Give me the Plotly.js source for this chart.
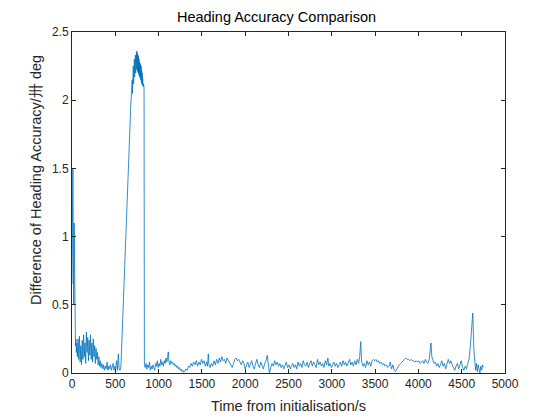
<!DOCTYPE html>
<html>
<head>
<meta charset="utf-8">
<script src="https://cdn.plot.ly/plotly-3.0.1.min.js"></script>
<style>html,body{margin:0;padding:0;background:#fff;}</style>
</head>
<body>
<div id="chart" style="width:556px;height:418px;"></div>
<script>
const timeS = [
0,5,10,15,20,25,30,35,40,45,50,
55,62,70,78,86,94,102,110,118,126,134,142,150,158,166,174,182,190,198,206,214,222,230,238,246,254,262,270,278,286,294,302,310,318,326,
335,345,355,365,375,385,395,405,415,425,435,445,455,465,475,485,495,505,515,525,535,545,555,
565,580,600,620,640,660,680,690,
695,698,702,705,708,711,714,717,720,723,726,729,732,735,738,741,744,747,750,753,756,759,762,765,768,771,774,777,780,783,786,789,792,795,798,801,804,807,810,813,816,820,826,832,
836,
845,855,865,875,885,895,905,915,925,935,945,955,965,975,985,995,1005,1015,1025,1035,1045,1055,1065,1075,1085,1095,1105,1112,1120,1130,1140,1150,1160,1170,1180,1190,1200,1210,1220,1230,1240,1250,1260,1270,1280,1290,1300,
1315,1330,1345,1360,1375,1390,1405,1420,1435,1450,1465,1480,1495,1510,1525,1540,1555,1565,1574,1582,1595,1610,1625,1640,1655,1670,1685,1700,1715,1730,1745,1760,1775,1790,1805,1820,1835,1850,1865,1880,1895,1910,1925,1940,1955,1970,1985,2000,
2015,2030,2045,2060,2075,2090,2105,2120,2135,2150,2165,2180,2195,2210,2225,2240,2255,2265,2280,2295,2310,2325,2340,2355,2370,2385,2400,2415,2430,2445,2460,2475,2490,2505,2520,2535,2550,2565,2580,2595,2610,2625,2640,2655,2670,2685,2700,2715,2730,2745,2760,2775,2790,2805,2820,2835,2850,2865,2880,2895,2910,2925,2940,2955,2965,2980,2995,3010,3025,3040,3055,3070,3085,3100,3115,3130,3145,3160,3175,3190,3205,3220,3235,3250,3265,3280,3295,3310,3322,3334,3345,3360,
3375,3390,3405,3420,3435,3450,3465,3480,3495,3510,3525,3540,3555,3570,3585,3600,3615,3630,3645,3660,3675,3690,3705,3720,3735,3750,3765,3780,3795,
3810,3825,3840,3855,3870,3885,3900,3915,3930,3945,3960,3975,3990,4005,4020,4035,4050,4065,4080,4095,4110,4125,4138,4145,4155,4165,4180,4195,4210,4225,4240,4255,4270,4285,4300,4315,4330,4345,4360,4375,4390,4405,4420,4435,4450,4465,4480,4495,4510,4525,4540,4555,4570,4585,4600,4615,4628,4640,4650,
4660,4670,4680,4690,4700,4710,4720,4730,4740,4750
];
const headingDiff = [
0.65,1.2,1.5,0.9,0.5,1.1,0.6,0.35,0.2,0.25,0.15,
0.22,0.12,0.25,0.1,0.27,0.08,0.2,0.06,0.24,0.1,0.28,0.12,0.22,0.07,0.3,0.15,0.26,0.09,0.24,0.13,0.28,0.1,0.22,0.08,0.25,0.12,0.2,0.07,0.18,0.1,0.15,0.06,0.12,0.05,0.09,
0.04,0.07,0.03,0.06,0.02,0.05,0.03,0.08,0.02,0.05,0.03,0.06,0.02,0.04,0.07,0.02,0.05,0.03,0.09,0.02,0.14,0.03,0.02,
0.05,0.3,0.72,1.08,1.42,1.72,1.98,2.08,
2.15,2.05,2.2,2.1,2.25,2.12,2.27,2.15,2.3,2.17,2.31,2.19,2.33,2.2,2.34,2.22,2.35,2.23,2.36,2.22,2.34,2.21,2.33,2.2,2.32,2.19,2.3,2.18,2.28,2.17,2.27,2.16,2.26,2.15,2.25,2.13,2.22,2.12,2.2,2.11,2.16,2.1,2.12,2.09,
0.06,
0.04,0.07,0.03,0.06,0.04,0.08,0.02,0.05,0.03,0.06,0.04,0.02,0.07,0.05,0.09,0.04,0.07,0.05,0.1,0.06,0.08,0.05,0.09,0.07,0.11,0.08,0.12,0.155,0.08,0.06,0.09,0.07,0.08,0.06,0.07,0.05,0.06,0.04,0.05,0.03,0.04,0.02,0.03,0.01,0.02,0.005,0.01,
0.03,0.02,0.05,0.04,0.07,0.05,0.08,0.06,0.09,0.05,0.08,0.06,0.1,0.07,0.09,0.05,0.08,0.05,0.14,0.06,0.04,0.07,0.05,0.09,0.06,0.1,0.07,0.11,0.08,0.12,0.09,0.1,0.07,0.11,0.09,0.08,0.06,0.04,0.07,0.1,0.11,0.09,0.1,0.08,0.06,0.09,0.07,0.03,
0.06,0.08,0.04,0.07,0.09,0.05,0.03,0.07,0.1,0.06,0.04,0.08,0.05,0.03,0.07,0.09,0.13,0.06,0.0,0.04,0.07,0.05,0.09,0.06,0.08,0.05,0.07,0.04,0.06,0.03,0.05,0.08,0.04,0.06,0.03,0.05,0.07,0.04,0.06,0.03,0.08,0.05,0.07,0.04,0.09,0.06,0.05,0.08,0.04,0.07,0.09,0.05,0.08,0.06,0.04,0.1,0.06,0.08,0.05,0.07,0.04,0.09,0.06,0.11,0.05,0.07,0.04,0.06,0.08,0.05,0.07,0.04,0.06,0.08,0.05,0.09,0.06,0.08,0.05,0.07,0.1,0.06,0.08,0.05,0.09,0.06,0.1,0.07,0.12,0.23,0.08,0.05,
0.07,0.04,0.09,0.06,0.08,0.05,0.09,0.1,0.09,0.1,0.08,0.09,0.07,0.08,0.06,0.07,0.05,0.06,0.04,0.05,0.08,0.03,0.06,0.02,0.01,0.03,0.05,0.06,0.07,
0.08,0.09,0.1,0.11,0.1,0.1,0.09,0.1,0.09,0.09,0.08,0.09,0.08,0.09,0.07,0.08,0.09,0.07,0.1,0.08,0.07,0.1,0.16,0.22,0.12,0.09,0.07,0.08,0.05,0.07,0.04,0.06,0.09,0.05,0.07,0.03,0.06,0.1,0.07,0.09,0.06,0.04,0.02,0.05,0.07,0.03,0.06,0.09,0.04,0.02,0.05,0.03,0.07,0.1,0.2,0.33,0.44,0.18,0.05,
0.02,0.07,0.01,0.06,0.03,0.0,0.05,0.02,0.06,0.04
];
const xTicks = [0,500,1000,1500,2000,2500,3000,3500,4000,4500,5000];
const yTicks = [0,0.5,1,1.5,2,2.5];
const titleText = 'Heading Accuracy Comparison';
const xLabel = 'Time from initialisation/s';
const yLabel = 'Difference of Heading Accuracy/卅 deg';

const FONT = 'Liberation Sans, Arial, sans-serif';
const axisCommon = {
  showgrid: false, zeroline: false, showline: true, linecolor: '#262626', linewidth: 1,
  mirror: 'ticks', ticks: 'inside', ticklen: 4, tickcolor: '#262626',
  tickfont: {family: FONT, size: 12, color: '#262626'}
};
const trace = {
  x: timeS, y: headingDiff, type: 'scatter', mode: 'lines',
  line: {color: '#0072BD', width: 0.8}, hoverinfo: 'skip'
};
const layout = {
  width: 556, height: 418,
  margin: {l: 72, r: 51, t: 32, b: 45, pad: 0},
  paper_bgcolor: '#ffffff', plot_bgcolor: '#ffffff',
  showlegend: false,
  title: {text: titleText, x: 276.5/556, xanchor: 'center', y: 1 - 17/418, yanchor: 'middle',
    font: {family: FONT, size: 14.5, color: '#000'}},
  xaxis: Object.assign({}, axisCommon, {range: [0, 5000], tickvals: xTicks,
    ticktext: xTicks.map(String)}),
  yaxis: Object.assign({}, axisCommon, {range: [0, 2.5], tickvals: yTicks,
    ticktext: yTicks.map(String)}),
  annotations: [
    {text: xLabel, xref: 'paper', yref: 'paper', x: 0.5, y: -(406 - 373)/341,
     xanchor: 'center', yanchor: 'middle', showarrow: false,
     font: {family: FONT, size: 14.5, color: '#262626'}},
    {text: yLabel, xref: 'paper', yref: 'paper', x: (36 - 72)/433, y: (373 - 180)/341,
     xanchor: 'center', yanchor: 'middle', textangle: -90, showarrow: false,
     font: {family: FONT, size: 14.5, color: '#262626'}}
  ]
};
Plotly.newPlot('chart', [trace], layout, {staticPlot: true, displayModeBar: false});
</script>
</body>
</html>
